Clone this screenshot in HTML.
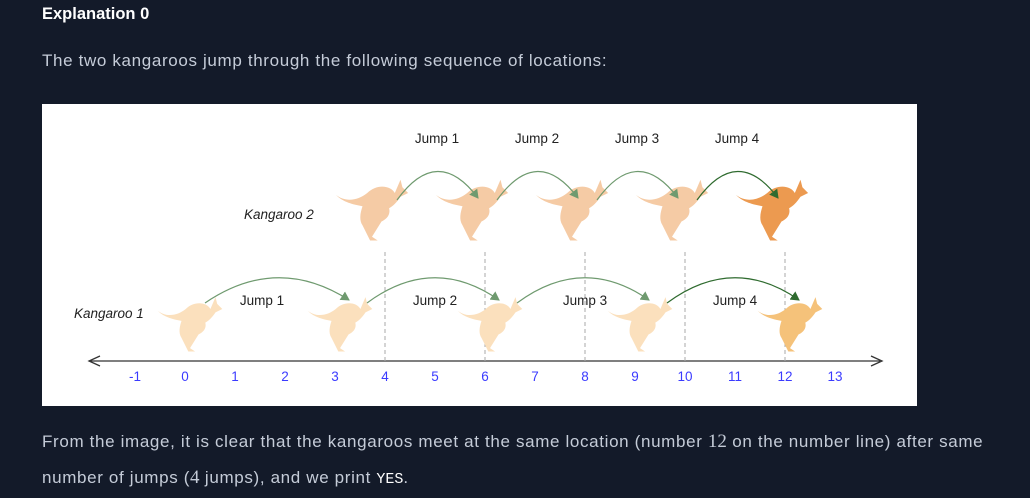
<!DOCTYPE html>
<html><head><meta charset="utf-8">
<style>
html,body{margin:0;padding:0;width:1030px;height:498px;overflow:hidden;background:#131a29;font-family:"Liberation Sans",sans-serif;}
.t{position:absolute;left:42px;color:#c5ccd8;font-size:17px;letter-spacing:0.65px;white-space:nowrap}
#h{top:5px;color:#fff;font-weight:bold;font-size:16.5px;letter-spacing:0}
#p1{top:51px}
#p2{top:431px}
#p3{top:467px}
code{font-family:"Liberation Mono",monospace;color:#fff;font-size:15px;letter-spacing:0}
#fig{position:absolute;left:42px;top:104px}
</style></head><body>
<div id="h" class="t">Explanation 0</div>
<div id="p1" class="t">The two kangaroos jump through the following sequence of locations:</div>
<svg id="fig" width="875" height="302"></svg>
<div id="p2" class="t">From the image, it is clear that the kangaroos meet at the same location (number <span style="font-family:'Liberation Serif',serif;font-size:19px;letter-spacing:0">12</span> on the number line) after same</div>
<div id="p3" class="t">number of jumps (<span style="font-family:'Liberation Serif',serif;font-size:19px;letter-spacing:0">4</span> jumps), and we print <code>YES</code>.</div>
<script>
const ticks=[-1,0,1,2,3,4,5,6,7,8,9,10,11,12,13];
const k1Pos=[0,3,6,9,12];
const k2Pos=[4,6,8,10,12];
const jumpNames=["Jump 1","Jump 2","Jump 3","Jump 4"];
const NS="http://www.w3.org/2000/svg";
const svg=document.getElementById('fig');
const X=v=>143+50*v; // svg-local
const AXY=257;
function el(t,a,p){const e=document.createElementNS(NS,t);for(const k in a)e.setAttribute(k,a[k]);(p||svg).appendChild(e);return e;}
el('rect',{x:0,y:0,width:875,height:302,fill:'#fff'});
const defs=el('defs',{});
['#6f9a6f','#2f6b2f'].forEach((c,i)=>{const m=el('marker',{id:'ar'+i,markerWidth:10,markerHeight:10,refX:8,refY:5,orient:'auto',markerUnits:'userSpaceOnUse'},defs);el('path',{d:'M0,0 L9,5 L0,10 Z',fill:c},m);});
const ax=el('line',{x1:48,y1:AXY,x2:838,y2:AXY,stroke:'#333','stroke-width':1.3});

el('path',{d:`M58,${AXY-5} L47,${AXY} L58,${AXY+5}`,fill:'none',stroke:'#333','stroke-width':1.3});
el('path',{d:`M829,${AXY-5} L840,${AXY} L829,${AXY+5}`,fill:'none',stroke:'#333','stroke-width':1.3});
ticks.forEach(v=>{const t=el('text',{x:X(v),y:AXY+20,'text-anchor':'middle','font-size':13.5,fill:'#3b3bff'});t.textContent=v;
});
function roo(cx,by,col,sc){
 const g=el('g',{transform:`translate(${cx},${by}) scale(${sc})`});
 
 el('path',{d:'M-38,-18 C-28,-10 -15,-12 -5,-20 C5,-30 20,-28 24,-20 L30,-34 L32,-26 L38,-20 L30,-16 C26,-10 22,-6 18,-4 C20,4 14,8 10,10 L0,26 L6,30 L-2,30 L-10,14 C-14,8 -12,0 -10,-6 C-20,-8 -30,-10 -38,-18 Z',fill:col},g);
 return g;
}
k2Pos.forEach(v=>{const d=el('line',{x1:X(v),y1:148,x2:X(v),y2:AXY,stroke:'#aaa','stroke-dasharray':'4,3','stroke-width':1});});
k1Pos.forEach((v,i)=>{roo(X(v)+5,222,i==k1Pos.length-1?'#f5c27a':'#fbe0bd',0.85);});
k2Pos.forEach((v,i)=>{roo(X(v)-13,108,i==k2Pos.length-1?'#ec9a50':'#f5cba5',0.95);});
function arc(x1,y1,x2,y2,peak,dark){const p=el('path',{d:`M${x1},${y1} Q${(x1+x2)/2},${peak} ${x2},${y2}`,fill:'none',stroke:dark?'#2f6b2f':'#6f9a6f','stroke-width':1.2,'marker-end':`url(#ar${dark?1:0})`});}
function lbl(x,y,s){const t=el('text',{x:x,y:y,'text-anchor':'middle','font-size':13.5,fill:'#222'});t.textContent=s;}
for(let i=0;i<k1Pos.length-1;i++){const a=X(k1Pos[i]),b=X(k1Pos[i+1]);arc(a+(i==0?20:32),199,b+14,196,150,i==k1Pos.length-2);lbl((a+b)/2+(i==0?2:25),201,jumpNames[i]);}
for(let i=0;i<k2Pos.length-1;i++){const a=X(k2Pos[i]),b=X(k2Pos[i+1]);arc(a+12,96,b-7,94,40,i==k2Pos.length-2);lbl((a+b)/2+2,39,jumpNames[i]);}
const n1=el('text',{x:32,y:214,'font-size':13.5,'font-style':'italic',fill:'#222'});n1.textContent='Kangaroo 1';
const n2=el('text',{x:202,y:115,'font-size':13.5,'font-style':'italic',fill:'#222'});n2.textContent='Kangaroo 2';
</script>
</body></html>
